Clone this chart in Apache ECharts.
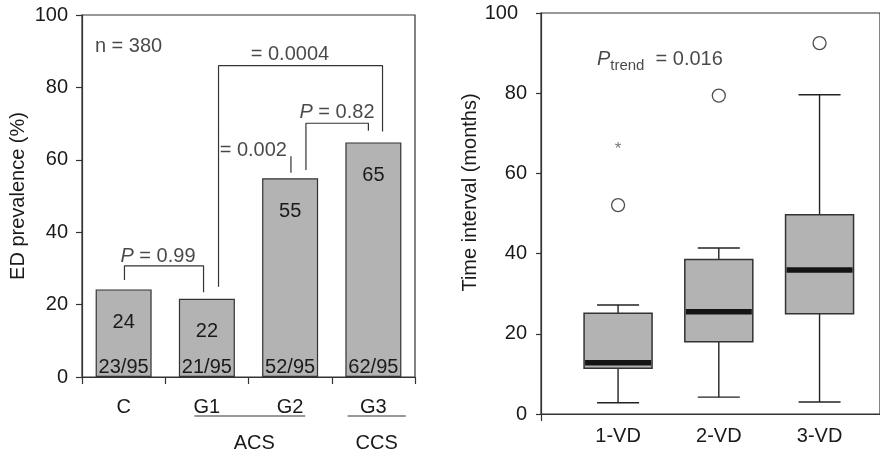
<!DOCTYPE html>
<html><head><meta charset="utf-8">
<script src="https://cdn.jsdelivr.net/npm/echarts@6/dist/echarts.min.js"></script>
<style>html,body{margin:0;padding:0;background:#fff}#c{width:880px;height:456px}</style>
</head><body><div id="c"></div>
<script>
// ---------- data: left panel ----------
const groups = ['C', 'G1', 'G2', 'G3'];
const prevalence = [24.2, 21.6, 54.9, 64.8];
const prevalenceLabels = ['24', '22', '55', '65'];
const fractions = ['23/95', '21/95', '52/95', '62/95'];
// brackets on a 0..4 helper axis (group units) and % units
const bracketCG1 = [[0.51, 26.8], [0.51, 30.7], [1.46, 30.7], [1.46, 23.4]];
const bracketG1G3 = [[1.64, 24.9], [1.64, 86.0], [3.61, 86.0], [3.61, 67.8]];
const bracketG2G3 = [[2.69, 57.2], [2.69, 70.1], [3.44, 70.1], [3.44, 68.0]];
const tickG2 = [[2.51, 56.4], [2.51, 61.0]];
const annotations = [
  [0.559, 91.2, 'n = 380'],
  [2.498, 89.0, '= 0.0004'],
  [3.063, 73.0, 'P = 0.82'],
  [2.058, 62.7, '= 0.002'],
  [0.913, 33.4, 'P = 0.99']
];
const underlines = [[1.35, 2.68], [3.19, 3.89]];
const superGroups = [['ACS', 2.07], ['CCS', 3.54]];

// ---------- data: right panel ----------
const vdGroups = ['1-VD', '2-VD', '3-VD'];
// low whisker, Q1, median, Q3, high whisker
const boxStats = [
  [2.8, 11.4, 12.8, 25.1, 27.2],
  [4.2, 18.0, 25.5, 38.5, 41.4],
  [3.0, 25.0, 35.9, 49.7, 79.6]
];
const outliers = [[1, 52.1], [2, 79.4], [3, 92.5]];
const extremes = [[1, 66.1]];
const pTrendValue = '0.016';
const pTrendPos = [0.79, 88.4];

const FONT = 'Liberation Sans, Arial, Helvetica, sans-serif';
const TXT = '#1a1a1a';
const LINE = '#333';

const chart = echarts.init(document.getElementById('c'), null, {renderer: 'canvas'});

const bracketSeries = [bracketCG1, bracketG1G3, bracketG2G3, tickG2].map(d => ({
  type: 'line', xAxisIndex: 1, yAxisIndex: 0, data: d, symbol: 'none', z: 5,
  lineStyle: {color: LINE, width: 1.2}, silent: true
}));

const option = {
  animation: false,
  textStyle: {fontFamily: FONT, color: TXT},
  grid: [
    {left: 82, top: 15, right: 465, bottom: 79, show: true, borderColor: LINE, borderWidth: 1.2, backgroundColor: 'transparent'},
    {left: 541, top: 13, right: -4, bottom: 42, show: true, borderColor: LINE, borderWidth: 1.2, backgroundColor: 'transparent'}
  ],
  xAxis: [
    {type: 'category', gridIndex: 0, data: groups, boundaryGap: true,
      axisLine: {lineStyle: {color: LINE, width: 1.2}},
      axisTick: {show: true, length: 7, lineStyle: {color: LINE, width: 1.2}},
      axisLabel: {margin: 20, fontSize: 20, color: TXT, fontFamily: FONT}},
    {type: 'value', gridIndex: 0, min: 0, max: 4, show: false},
    {type: 'value', gridIndex: 1, min: 0.235, max: 3.6,
      axisLine: {lineStyle: {color: LINE, width: 1.2}},
      axisTick: {show: true, length: 7, customValues: [0.235], lineStyle: {color: LINE, width: 1.2}},
      axisLabel: {margin: 12, fontSize: 20, color: TXT, fontFamily: FONT, customValues: [1, 2, 3],
        formatter: v => vdGroups[Math.round(v) - 1] || ''},
      splitLine: {show: false}}
  ],
  yAxis: [
    {type: 'value', gridIndex: 0, min: 0, max: 100, interval: 20,
      name: 'ED prevalence (%)', nameLocation: 'middle', nameGap: 54,
      nameTextStyle: {fontSize: 20, color: TXT, fontFamily: FONT},
      axisLine: {show: true, lineStyle: {color: LINE, width: 1.2}},
      axisTick: {show: true, length: 6, lineStyle: {color: LINE, width: 1.2}},
      axisLabel: {margin: 14, fontSize: 20, color: TXT, fontFamily: FONT},
      splitLine: {show: false}},
    {type: 'value', gridIndex: 1, min: 0, max: 100, interval: 20,
      name: 'Time interval (months)', nameLocation: 'middle', nameGap: 52,
      nameTextStyle: {fontSize: 20, color: TXT, fontFamily: FONT, padding: [0, 0, 0, 42]},
      axisLine: {show: true, lineStyle: {color: LINE, width: 1.2}},
      axisTick: {show: true, length: 5, lineStyle: {color: LINE, width: 1.2}},
      axisLabel: {margin: 14, fontSize: 20, color: TXT, fontFamily: FONT,
        formatter: v => v === 100 ? '{a|100}' : String(v),
        rich: {a: {fontSize: 20, color: TXT, fontFamily: FONT, padding: [0, 9, 0, 0]}}},
      splitLine: {show: false}}
  ],
  series: [
    {type: 'bar', xAxisIndex: 0, yAxisIndex: 0, data: prevalence, barWidth: 56,
      itemStyle: {color: '#b3b3b3', borderColor: LINE, borderWidth: 1.2},
      label: {show: true, position: 'insideTop', distance: 23, fontSize: 20, color: TXT, fontFamily: FONT,
        formatter: p => prevalenceLabels[p.dataIndex]}},
    {type: 'bar', xAxisIndex: 0, yAxisIndex: 0, data: prevalence, barWidth: 56, barGap: '-100%',
      itemStyle: {color: 'rgba(0,0,0,0)'}, z: 3,
      label: {show: true, position: 'insideBottom', distance: 0, fontSize: 20, color: TXT, fontFamily: FONT,
        formatter: p => fractions[p.dataIndex]}},
    ...bracketSeries,
    {type: 'scatter', xAxisIndex: 1, yAxisIndex: 0, symbolSize: 0, z: 6,
      data: annotations.map(a => [a[0], a[1], a[2]]),
      label: {show: true, position: 'inside', fontSize: 20, color: TXT, fontFamily: FONT,
        formatter: p => p.value[2].replace(/^P /, '{i|P} '),
        rich: {i: {fontStyle: 'italic', fontSize: 20, color: TXT, fontFamily: FONT}}}},
    {type: 'custom', xAxisIndex: 2, yAxisIndex: 1, z: 4,
      data: boxStats.map((s, i) => [i + 1, ...s]),
      renderItem: function (params, api) {
        const x = api.value(0);
        const lo = api.coord([x, api.value(1)]);
        const q1 = api.coord([x, api.value(2)]);
        const md = api.coord([x, api.value(3)]);
        const q3 = api.coord([x, api.value(4)]);
        const hi = api.coord([x, api.value(5)]);
        const cx = lo[0], bw = 68, cw = 42;
        const ls = {stroke: '#222', lineWidth: 1.4};
        return {type: 'group', children: [
          {type: 'line', shape: {x1: cx, y1: q3[1], x2: cx, y2: hi[1]}, style: ls},
          {type: 'line', shape: {x1: cx, y1: q1[1], x2: cx, y2: lo[1]}, style: ls},
          {type: 'line', shape: {x1: cx - cw / 2, y1: hi[1], x2: cx + cw / 2, y2: hi[1]}, style: ls},
          {type: 'line', shape: {x1: cx - cw / 2, y1: lo[1], x2: cx + cw / 2, y2: lo[1]}, style: ls},
          {type: 'rect', shape: {x: cx - bw / 2, y: q3[1], width: bw, height: q1[1] - q3[1]},
            style: {fill: '#b3b3b3', stroke: '#333', lineWidth: 1.5}},
          {type: 'line', shape: {x1: cx - bw / 2 + 1, y1: md[1], x2: cx + bw / 2 - 1, y2: md[1]},
            style: {stroke: '#141414', lineWidth: 5.5}}
        ]};
      }},
    {type: 'scatter', xAxisIndex: 2, yAxisIndex: 1, data: outliers, symbol: 'circle', symbolSize: 13, z: 5,
      itemStyle: {color: '#fff', borderColor: '#222', borderWidth: 1.3}},
    {type: 'scatter', xAxisIndex: 2, yAxisIndex: 1, data: extremes, symbolSize: 0, z: 5,
      label: {show: true, position: 'inside', formatter: '*', fontSize: 17, color: '#555', fontFamily: FONT}},
    {type: 'scatter', xAxisIndex: 2, yAxisIndex: 1, data: [pTrendPos], symbolSize: 0, z: 5,
      label: {show: true, position: 'right', distance: 0, align: 'left', verticalAlign: 'middle',
        formatter: '{i|P}{s|trend}{t|  = ' + pTrendValue + '}',
        rich: {
          i: {fontStyle: 'italic', fontSize: 20, color: TXT, fontFamily: FONT},
          s: {fontSize: 15, color: TXT, fontFamily: FONT, padding: [12, 0, 0, 0]},
          t: {fontSize: 20, color: TXT, fontFamily: FONT}
        }}}
  ]
};
chart.setOption(option);

// group labels under the left x axis
const gfx = [];
underlines.forEach(u => {
  const x1 = chart.convertToPixel({xAxisIndex: 1}, u[0]);
  const x2 = chart.convertToPixel({xAxisIndex: 1}, u[1]);
  gfx.push({type: 'line', shape: {x1: x1, y1: 416, x2: x2, y2: 416}, style: {stroke: LINE, lineWidth: 1.2}});
});
superGroups.forEach(g => {
  const x = chart.convertToPixel({xAxisIndex: 1}, g[1]);
  gfx.push({type: 'text', x: x, y: 443, style: {text: g[0], fontSize: 20, fontFamily: FONT, fill: TXT,
    align: 'center', verticalAlign: 'middle'}});
});
chart.setOption({graphic: gfx});
</script>
</body></html>
